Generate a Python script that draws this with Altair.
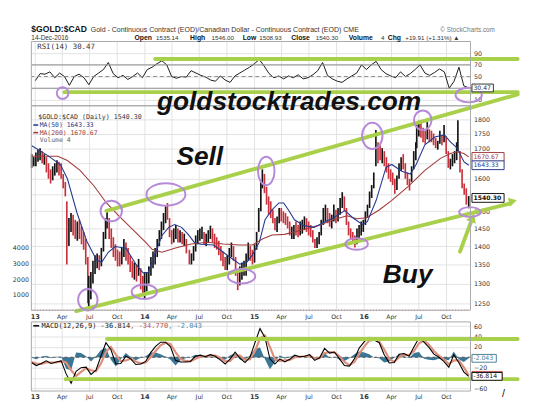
import altair as alt
import pandas as pd

# ------------------------------------------------------------------
# Values
# ------------------------------------------------------------------
# weekly price bars of $GOLD:$CAD (one inner list per month)
BAR_DATES = [
 ["2012-12-20","2012-12-27"],
 ["2013-01-03","2013-01-10","2013-01-17","2013-01-24","2013-01-31"],
 ["2013-02-07","2013-02-14","2013-02-21","2013-02-28"],
 ["2013-03-07","2013-03-14","2013-03-21","2013-03-28"],
 ["2013-04-04","2013-04-11","2013-04-16","2013-04-23","2013-04-30"],
 ["2013-05-07","2013-05-14","2013-05-21","2013-05-28"],
 ["2013-06-04","2013-06-11","2013-06-18","2013-06-25","2013-06-28"],
 ["2013-07-05","2013-07-12","2013-07-19","2013-07-26"],
 ["2013-08-02","2013-08-09","2013-08-16","2013-08-23","2013-08-28"],
 ["2013-09-04","2013-09-11","2013-09-18","2013-09-25"],
 ["2013-10-02","2013-10-09","2013-10-16","2013-10-23","2013-10-30"],
 ["2013-11-06","2013-11-13","2013-11-20","2013-11-27"],
 ["2013-12-04","2013-12-11","2013-12-18","2013-12-25","2013-12-31"],
 ["2014-01-07","2014-01-14","2014-01-21","2014-01-28"],
 ["2014-02-04","2014-02-11","2014-02-18","2014-02-25"],
 ["2014-03-04","2014-03-11","2014-03-17","2014-03-24","2014-03-31"],
 ["2014-04-07","2014-04-14","2014-04-21","2014-04-28"],
 ["2014-05-05","2014-05-12","2014-05-19","2014-05-29"],
 ["2014-06-05","2014-06-12","2014-06-19","2014-06-26"],
 ["2014-07-03","2014-07-10","2014-07-17","2014-07-24","2014-07-31"],
 ["2014-08-07","2014-08-14","2014-08-21","2014-08-28"],
 ["2014-09-04","2014-09-11","2014-09-18","2014-09-25"],
 ["2014-10-02","2014-10-09","2014-10-16","2014-10-23","2014-10-30"],
 ["2014-11-06","2014-11-13","2014-11-20","2014-11-27"],
 ["2014-12-04","2014-12-11","2014-12-18","2014-12-25"],
 ["2015-01-01","2015-01-08","2015-01-15","2015-01-22","2015-01-27"],
 ["2015-02-03","2015-02-10","2015-02-17","2015-02-24"],
 ["2015-03-03","2015-03-10","2015-03-17","2015-03-24","2015-03-31"],
 ["2015-04-07","2015-04-14","2015-04-21","2015-04-28"],
 ["2015-05-05","2015-05-12","2015-05-19","2015-05-26"],
 ["2015-06-02","2015-06-09","2015-06-16","2015-06-23","2015-06-30"],
 ["2015-07-07","2015-07-14","2015-07-21","2015-07-28"],
 ["2015-08-04","2015-08-11","2015-08-18","2015-08-25"],
 ["2015-09-01","2015-09-08","2015-09-15","2015-09-22","2015-09-29"],
 ["2015-10-06","2015-10-13","2015-10-20","2015-10-27"],
 ["2015-11-03","2015-11-10","2015-11-17","2015-11-24"],
 ["2015-12-01","2015-12-08","2015-12-15","2015-12-22","2015-12-29"],
 ["2016-01-05","2016-01-12","2016-01-19","2016-01-26"],
 ["2016-02-02","2016-02-09","2016-02-16","2016-02-23"],
 ["2016-03-01","2016-03-08","2016-03-15","2016-03-22","2016-03-29"],
 ["2016-04-05","2016-04-12","2016-04-19","2016-04-26"],
 ["2016-05-03","2016-05-10","2016-05-17","2016-05-24","2016-05-31"],
 ["2016-06-07","2016-06-14","2016-06-21","2016-06-24"],
 ["2016-07-01","2016-07-08","2016-07-15","2016-07-22","2016-07-29"],
 ["2016-08-05","2016-08-12","2016-08-19","2016-08-26"],
 ["2016-09-02","2016-09-09","2016-09-16","2016-09-23","2016-09-30"],
 ["2016-10-07","2016-10-14","2016-10-21","2016-10-28"],
 ["2016-11-04","2016-11-08","2016-11-15","2016-11-22","2016-11-29"],
 ["2016-12-06","2016-12-14"],
]
BAR_HIGH = [
 [1680,1670],[1685,1695,1700,1690,1680],[1670,1650,1630,1640],[1650,1660,1655,1650],
 [1615,1590,1530,1480,1495],[1490,1475,1470,1475],[1455,1440,1420,1370,1320],[1330,1360,1375,1380],
 [1375,1395,1440,1480,1500],[1480,1450,1425,1405],[1390,1385,1395,1420,1410],[1395,1375,1360,1355],
 [1350,1365,1340,1320,1330],
 [1330,1345,1370,1385],[1395,1420,1445,1470],[1495,1515,1525,1480,1445],[1450,1460,1450,1445],
 [1440,1435,1420,1390],[1380,1400,1430,1445],[1450,1455,1440,1435,1445],[1458,1450,1435,1425],
 [1415,1400,1385,1370],[1375,1395,1410,1400,1370],[1330,1345,1355,1360],[1380,1410,1400,1390],
 [1405,1440,1510,1590,1630],[1615,1575,1545,1530],[1505,1480,1485,1510,1510],[1500,1495,1485,1470],
 [1455,1460,1470,1460],[1470,1475,1485,1480,1470],[1460,1445,1420,1425],[1440,1475,1510,1520],
 [1510,1495,1490,1520,1505],[1510,1540,1558,1545],[1510,1470,1450,1440],[1430,1450,1460,1470,1475],
 [1500,1520,1560,1580],[1620,1762,1720,1710],[1700,1690,1670,1650,1630],[1620,1600,1610,1650],
 [1670,1680,1650,1620,1600],[1640,1690,1720,1790],[1795,1797,1770,1760,1790],[1765,1760,1750,1735],
 [1725,1760,1745,1780,1740],[1690,1665,1680,1690],[1720,1797,1690,1630,1585],[1570,1546],
]
BAR_LOW = [
 [1635,1640],[1640,1655,1660,1650,1645],[1620,1600,1585,1595],[1610,1620,1610,1600],
 [1570,1545,1350,1400,1440],[1430,1420,1415,1420],[1405,1390,1350,1250,1240],[1260,1300,1325,1340],
 [1335,1345,1385,1420,1450],[1420,1395,1370,1360],[1345,1345,1350,1370,1360],[1350,1330,1315,1310],
 [1305,1320,1285,1275,1260],
 [1280,1300,1320,1340],[1350,1370,1400,1420],[1445,1465,1475,1425,1405],[1410,1420,1410,1410],
 [1405,1400,1380,1350],[1350,1360,1385,1405],[1415,1420,1405,1400,1410],[1420,1410,1395,1390],
 [1375,1360,1345,1335],[1335,1350,1370,1360,1320],[1283,1295,1310,1320],[1320,1360,1360,1350],
 [1355,1390,1440,1500,1570],[1555,1520,1490,1480],[1465,1445,1440,1465,1470],[1465,1460,1450,1430],
 [1420,1420,1430,1425],[1430,1435,1445,1440,1430],[1425,1410,1395,1395],[1405,1430,1460,1470],
 [1465,1455,1450,1470,1465],[1470,1490,1510,1500],[1460,1430,1420,1410],[1396,1405,1420,1430,1440],
 [1460,1480,1510,1540],[1570,1640,1650,1660],[1650,1640,1620,1600,1590],[1580,1553,1565,1600],
 [1625,1630,1600,1580,1563],[1590,1630,1660,1700],[1740,1735,1720,1715,1730],[1720,1720,1710,1700],
 [1695,1715,1710,1720,1680],[1635,1630,1640,1650],[1660,1690,1620,1570,1550],[1520,1509],
]
BAR_CLOSE = [
 [1650,1660],[1670,1680,1690,1665,1670],[1640,1615,1600,1625],[1630,1645,1640,1620],
 [1585,1560,1400,1460,1470],[1455,1440,1450,1440],[1430,1410,1370,1280,1290],[1300,1345,1355,1360],
 [1350,1385,1430,1465,1480],[1440,1410,1400,1380],[1365,1360,1380,1400,1375],[1370,1350,1330,1330],
 [1320,1345,1300,1290,1300],
 [1310,1335,1360,1370],[1385,1410,1430,1460],[1480,1500,1490,1440,1420],[1435,1440,1425,1430],
 [1420,1420,1395,1360],[1370,1390,1420,1430],[1435,1440,1420,1425,1430],[1445,1430,1410,1405],
 [1390,1375,1360,1350],[1360,1385,1395,1375,1330],[1310,1330,1340,1345],[1370,1395,1380,1375],
 [1395,1430,1500,1570,1610],[1575,1540,1510,1505],[1480,1460,1470,1495,1490],[1485,1475,1460,1440],
 [1440,1450,1445,1440],[1455,1460,1470,1455,1450],[1440,1420,1405,1415],[1430,1465,1495,1500],
 [1485,1470,1475,1505,1490],[1500,1530,1540,1515],[1475,1445,1430,1425],[1410,1440,1445,1460,1465],
 [1490,1505,1550,1570],[1610,1720,1690,1680],[1690,1660,1640,1615,1600],[1595,1570,1600,1640],
 [1660,1645,1615,1590,1580],[1630,1670,1690,1760],[1770,1765,1740,1735,1760],[1740,1735,1725,1715],
 [1720,1740,1725,1745,1700],[1650,1650,1665,1680],[1700,1720,1640,1590,1565],[1530,1540.30],
]

MA50_DATES = ["2012-12-19","2013-02-12","2013-03-26","2013-04-18","2013-05-20","2013-06-22",
 "2013-07-24","2013-08-10","2013-09-01","2013-09-24","2013-10-30","2013-12-04","2013-12-27",
 "2014-01-12","2014-02-04","2014-02-27","2014-03-21","2014-04-10","2014-05-03","2014-05-25",
 "2014-06-14","2014-07-06","2014-08-18","2014-09-19","2014-10-21","2014-11-13","2014-12-06",
 "2014-12-25","2015-01-17","2015-02-05","2015-02-28","2015-03-23","2015-04-08","2015-04-24",
 "2015-05-14","2015-06-15","2015-07-18","2015-08-19","2015-09-21","2015-10-29","2015-11-24",
 "2015-12-27","2016-01-12","2016-02-10","2016-03-14","2016-04-02","2016-05-05","2016-06-03",
 "2016-06-22","2016-07-21","2016-08-23","2016-09-24","2016-10-14","2016-11-05","2016-11-28",
 "2016-12-14"]
MA50_VALUES = [1709,1675,1645,1600,1495,1413,1362,1356,1383,1399,1394,1348,1327,1329,1378,1430,
 1453,1461,1453,1433,1411,1405,1403,1383,1364,1351,1356,1376,1411,1475,1504,1525,1525,1504,1475,
 1458,1453,1467,1481,1502,1481,1461,1470,1533,1637,1646,1624,1615,1646,1711,1738,1745,1721,1701,
 1655,1643.33]

MA200_DATES = ["2012-12-19","2013-03-17","2013-04-18","2013-05-30","2013-07-15","2013-08-26",
 "2013-10-07","2013-11-21","2014-01-03","2014-01-25","2014-02-27","2014-04-10","2014-06-04",
 "2014-07-29","2014-09-19","2014-11-13","2014-12-25","2015-01-27","2015-02-28","2015-04-11",
 "2015-06-05","2015-07-31","2015-09-21","2015-11-05","2015-12-07","2016-01-09","2016-02-20",
 "2016-04-02","2016-05-27","2016-07-21","2016-09-11","2016-10-14","2016-11-05","2016-11-28",
 "2016-12-14"]
MA200_VALUES = [1673,1673,1659,1627,1578,1525,1486,1447,1411,1391,1383,1394,1406,1411,1406,1403,
 1403,1420,1431,1433,1445,1458,1475,1487,1478,1481,1504,1533,1576,1627,1666,1682,1688,1682,1670.67]

# RSI(14), read every ~16 days from 2013-01-01 to 2016-12-14
RSI_START, RSI_END = "2013-01-01", "2016-12-14"
RSI_VALUES = [43,55,54,58,48,56,50,35,50,54, 48,36,50,56,62,74,55,48,52,45,
 50,56,48,62,66,72,77,70,50,47, 50,49,60,56,52,49,44,42,51,44,
 40,51,56,61,66,72,79,68,55,48, 51,46,51,48,53,46,48,53,60,74,
 52,46,42,40,46,51,56,70,62, 70,76,62,55,51,48,58,50,55,62,70,56,52,57,63,58,30,42,66,34,30.47]

# MACD(12,26,9), read every ~16 days from 2012-12-19 to 2016-12-14
MACD_START, MACD_END = "2012-12-19", "2016-12-14"
MACD_VALUES = [-10,-16,-12,-7,-12,-9,-7,-32,-50,-27, -20,-19,-33,-25,2,28,15,-13,-12,2,
 -3,-14,-13,-8,9,21,29,29,20,-6, -9,-9,-8,2,4,1,5,2,-5,-13, -3,10,-2,-10,0,28,55,38,-3,-13,
 -3,-9,-4,4,1,2,5,-6,-1,17, 8,10,-3,-16,-17,-3,18,30,38,33, 28,5,-11,-10,6,7,2,20,37,29,
 19,6,0,-8,-19,5,-10,-28,-36.814]
SIGNAL_VALUES = [-9,-12,-13,-10,-10,-10,-8,-10,-25,-36, -28,-21,-25,-27,-12,10,20,5,-8,-6,
 -3,-8,-12,-10,0,12,23,28,25,10, -3,-7,-8,-3,1,2,3,3,-1,-8, -7,3,3,-5,-4,12,36,42,20,-4,
 -7,-6,-5,0,1,2,3,-2,-2,8, 10,9,2,-9,-15,-9,7,21,32,34, 30,15,-3,-9,0,5,4,12,27,32,
 24,12,3,-4,-13,-6,-6,-19,-34.770]

VOLUME_DATES = ["2012-12-19", "2016-12-14"]
VOLUME_VALUES = [4, 4]

# axis ticks and labels
PRICE_TICKS = [1250,1300,1350,1400,1450,1500,1550,1600,1650,1700,1750,1800]
VOLUME_TICKS = [1000,2000,3000,4000]
RSI_TICKS = [10,30,50,70,90]
RSI_LEVELS = [70,30]
MACD_TICKS = [-60,-40,-20,0,20,40,60]
TICK_DATES = ["2013-01-01","2013-04-01","2013-07-01","2013-10-01","2014-01-01","2014-04-01",
 "2014-07-01","2014-10-01","2015-01-01","2015-04-01","2015-07-01","2015-10-01","2016-01-01",
 "2016-04-01","2016-07-01","2016-10-01"]
TICK_LABELS = ["13","Apr","Jul","Oct","14","Apr","Jul","Oct","15","Apr","Jul","Oct","16","Apr","Jul","Oct"]

# last values shown in the boxes at the right edge
TAG_CLOSE, TAG_MA50, TAG_MA200 = 1540.30, 1643.33, 1670.67
TAG_RSI = 30.47
TAG_HIST, TAG_SIGNAL, TAG_MACD = -2.043, -34.770, -36.814

# hand-drawn annotations (channel lines, ellipses)
GREEN_PRICE_DATES = [["2013-08-26","2017-05-26"],["2013-05-17","2017-04-30"],["2016-11-15","2016-12-21"]]
GREEN_PRICE_VALUES = [[1501,1891],[1231,1523],[1385,1467]]
GREEN_RSI_DATES = [["2014-02-04","2017-05-26"],["2013-04-08","2017-05-26"]]
GREEN_RSI_VALUES = [[80,80],[23.3,23.3]]
GREEN_MACD_DATES = [["2013-08-28","2017-05-26"],["2013-04-12","2017-05-26"]]
GREEN_MACD_VALUES = [[35,35],[-42,-42]]
ELLIPSE_DATES = ["2013-06-25","2013-12-30","2013-09-11","2014-03-12","2014-11-19","2015-02-09",
 "2016-01-28","2015-12-07","2016-07-14","2016-12-18"]
ELLIPSE_PRICES = [1259,1279,1501,1551,1319,1625,1742,1406,1797,1498]
RSI_ELLIPSE_DATES = ["2013-04-02","2016-12-14"]
RSI_ELLIPSE_VALUES = [21.7,18.3]

# ------------------------------------------------------------------
# layout / style
# ------------------------------------------------------------------
W, H = 451, 359
R0, R1 = 0, 66
P0, P1 = 66, 276
M0, M1 = 288, 359
ELLIPSE_SIZES = [(20,22),(26,15),(22,21),(40,23),(28,15),(17,29),(21,27),(23,12),(18,20),(22,10)]
RSI_ELLIPSE_SIZES = [(12,12),(27,15)]

GREEN = "#a9d04a"
PURPLE = "#b68ad8"
GRID = "#e2e2e2"
FRAME = "#a8a8a8"
BLUE = "#253a8e"
BROWN = "#a23b3b"
TEAL = "#2f6f8f"
SALMON = "#de8f7c"
MONO = "DejaVu Sans Mono"
SANS = "Liberation Sans"
AXF = "DejaVu Sans"

for name, rows in (("high", BAR_HIGH), ("low", BAR_LOW), ("close", BAR_CLOSE)):
    assert len(rows) == len(BAR_DATES), name
    for i, (a, b) in enumerate(zip(BAR_DATES, rows)):
        assert len(a) == len(b), (name, i, a)

flat = lambda rows: [v for r in rows for v in r]
price_df = pd.DataFrame({"date": pd.to_datetime(flat(BAR_DATES)), "high": flat(BAR_HIGH),
                         "low": flat(BAR_LOW), "close": flat(BAR_CLOSE)})
prev = price_df["close"].shift(1).fillna(price_df["close"].iloc[0])
price_df["dir"] = ["up" if c >= p else "down" for c, p in zip(price_df["close"], prev)]

ma50_df = pd.DataFrame({"date": pd.to_datetime(MA50_DATES), "v": MA50_VALUES})
ma200_df = pd.DataFrame({"date": pd.to_datetime(MA200_DATES), "v": MA200_VALUES})
rsi_df = pd.DataFrame({"date": pd.date_range(RSI_START, RSI_END, periods=len(RSI_VALUES)), "v": RSI_VALUES})
macd_df = pd.DataFrame({"date": pd.date_range(MACD_START, MACD_END, periods=len(MACD_VALUES)),
                        "macd": MACD_VALUES, "signal": SIGNAL_VALUES})
macd_df["hist"] = macd_df["macd"] - macd_df["signal"]
vol_df = pd.DataFrame({"date": pd.to_datetime(VOLUME_DATES), "v": VOLUME_VALUES})
ticks_df = pd.DataFrame({"date": pd.to_datetime(TICK_DATES), "label": TICK_LABELS})
ticks_df["year"] = ticks_df["label"].str.len() == 2


def seg_df(dates, values):
    rows = []
    for g, (ds, vs) in enumerate(zip(dates, values)):
        for d, v in zip(ds, vs):
            rows.append({"date": pd.Timestamp(d), "v": v, "g": g})
    return pd.DataFrame(rows)


XS = alt.Scale(domain=[alt.DateTime(year=2012, month=12, date=19),
                       alt.DateTime(year=2016, month=12, date=20)])
X = alt.X("date:T", scale=XS, axis=None)
PS = alt.Scale(type="log", domain=[1233, 1849], range=[P1, P0], nice=False, zero=False)
VS = alt.Scale(domain=[0, 13125], range=[P1, P0], nice=False, zero=False)
RS = alt.Scale(domain=[0, 110], range=[R1, R0], nice=False, zero=False)
MS = alt.Scale(domain=[-65, 68], range=[M1, M0], nice=False, zero=False)


def yaxis(values, orient="right", hide=None, fmt="d"):
    expr = "datum.label"
    if hide:
        expr = " || ".join(f"datum.value == {h}" for h in hide) + " ? '' : datum.label"
    return alt.Axis(orient=orient, values=values, title=None, grid=(orient == "right"), gridColor=GRID,
                    gridWidth=1, ticks=False, tickSize=0, domain=False, labelPadding=3,
                    labelOverlap=False, labelExpr=expr, labelFont=AXF, labelFontSize=6.5,
                    labelColor="#333", format=fmt)


def Y(field, scale):
    # secondary layers: no axis argument so they merge with the panel's main axis
    return alt.Y(f"{field}:Q", scale=scale)


def ellipse_path(w, h):
    r = h / w
    k = 0.5523
    a = k * r
    return (f"M-1,0C-1,{-a:.4f},{-k:.4f},{-r:.4f},0,{-r:.4f}"
            f"C{k:.4f},{-r:.4f},1,{-a:.4f},1,0"
            f"C1,{a:.4f},{k:.4f},{r:.4f},0,{r:.4f}"
            f"C{-k:.4f},{r:.4f},-1,{a:.4f},-1,0Z")


def rect_path(w, h):
    r = h / w
    return f"M-1,{-r:.4f}L1,{-r:.4f}L1,{r:.4f}L-1,{r:.4f}Z"


def ellipses(dates, values, sizes, scale):
    out = []
    for d, v, (w, h) in zip(dates, values, sizes):
        df = pd.DataFrame({"date": [pd.Timestamp(d)], "v": [v]})
        out.append(alt.Chart(df).mark_point(shape=ellipse_path(w, h), size=w * w, filled=False,
                                            color=PURPLE, strokeWidth=2, opacity=1).encode(
            x=X, y=Y("v", scale)))
    return out


def tag(scale, value, txt, color, w, h=9, bold=False, tcolor=None, fs=6.3):
    df = pd.DataFrame({"v": [value]})
    box = alt.Chart(df).mark_point(shape=rect_path(w, h), size=w * w, filled=True, fill="white",
                                   stroke=color, strokeWidth=1, opacity=1).encode(
        x=alt.value(W + 1.5 + w / 2), y=Y("v", scale))
    t = alt.Chart(df).mark_text(text=txt, align="left", baseline="middle", font=AXF, fontSize=fs,
                                fontWeight="bold" if bold else "normal", color=tcolor or color).encode(
        x=alt.value(W + 3), y=Y("v", scale))
    return [box, t]


def green(dates, values, scale):
    return alt.Chart(seg_df(dates, values)).mark_line(color=GREEN, strokeWidth=4, strokeCap="round",
                                                      clip=False).encode(
        x=X, y=Y("v", scale), detail="g:N")


ONE = pd.DataFrame({"k": [0]})


def label(txt, px, py, size=7, weight="normal", color="#222", font=SANS, align="left",
          baseline="alphabetic", style="normal"):
    return alt.Chart(ONE).mark_text(text=txt, fontSize=size, fontWeight=weight, color=color, font=font,
                                    align=align, baseline=baseline, fontStyle=style).encode(
        x=alt.value(px), y=alt.value(py))


def hline(x1, x2, y, color):
    return alt.Chart(ONE).mark_rule(color=color, strokeWidth=1.6).encode(
        x=alt.value(x1), x2=alt.value(x2), y=alt.value(y))


# ---------------- RSI panel ----------------
rsi_group = alt.layer(
    alt.Chart(rsi_df).mark_line(color="black", strokeWidth=0.9).encode(
        x=X, y=alt.Y("v:Q", scale=RS, axis=yaxis(RSI_TICKS, hide=[30]))),
    alt.Chart(pd.DataFrame({"v": RSI_LEVELS})).mark_rule(color="#8c8c8c", strokeWidth=1).encode(
        y=Y("v", RS)),
    alt.Chart(pd.DataFrame({"v": [50]})).mark_rule(color="#8c8c8c", strokeWidth=1, strokeDash=[4, 3]).encode(
        y=Y("v", RS)),
    green(GREEN_RSI_DATES, GREEN_RSI_VALUES, RS),
    *ellipses(RSI_ELLIPSE_DATES, RSI_ELLIPSE_VALUES, RSI_ELLIPSE_SIZES, RS),
    *tag(RS, TAG_RSI, f"{TAG_RSI:.2f}", "#333", 22, 8),
)

# ---------------- volume (left axis of the price panel) ----------------
vol_group = alt.layer(
    alt.Chart(vol_df).mark_line(color="#c98080", strokeWidth=1.2, strokeDash=[1, 2]).encode(
        x=X, y=alt.Y("v:Q", scale=VS, axis=yaxis(VOLUME_TICKS, orient="left"))),
)

# ---------------- price panel ----------------
arrow_df = pd.DataFrame({"date": pd.to_datetime(["2017-05-10"]), "v": [1530]})
arrow2_df = pd.DataFrame({"date": pd.to_datetime(["2016-12-27"]), "v": [1481]})
price_group = alt.layer(
    alt.Chart(price_df).mark_rule(strokeWidth=1.7).encode(
        x=X, y=alt.Y("low:Q", scale=PS, axis=yaxis(PRICE_TICKS, hide=[1650, 1550])), y2="high:Q",
        color=alt.Color("dir:N", scale=alt.Scale(domain=["up", "down"], range=["#141414", "#c9323c"]),
                        legend=None)),
    alt.Chart(ma200_df).mark_line(color=BROWN, strokeWidth=1.1).encode(x=X, y=Y("v", PS)),
    alt.Chart(ma50_df).mark_line(color=BLUE, strokeWidth=1.1).encode(x=X, y=Y("v", PS)),
    green(GREEN_PRICE_DATES, GREEN_PRICE_VALUES, PS),
    alt.Chart(arrow_df).mark_point(shape="triangle-right", filled=True, color=GREEN, size=90, angle=346,
                                   opacity=1).encode(x=X, y=Y("v", PS)),
    alt.Chart(arrow2_df).mark_point(shape="triangle-up", filled=True, color=GREEN, size=110, angle=21,
                                    opacity=1).encode(x=X, y=Y("v", PS)),
    *ellipses(ELLIPSE_DATES, ELLIPSE_PRICES, ELLIPSE_SIZES, PS),
    *tag(PS, TAG_MA200, f"{TAG_MA200:.2f}", BROWN, 33),
    *tag(PS, TAG_MA50, f"{TAG_MA50:.2f}", BLUE, 33),
    *tag(PS, TAG_CLOSE, f"{TAG_CLOSE:.2f}", "#111", 33, bold=True),
)

# ---------------- MACD panel ----------------
macd_group = alt.layer(
    alt.Chart(macd_df).mark_area(color=TEAL, opacity=0.95).encode(
        x=X, y=alt.Y("hist:Q", scale=MS, axis=yaxis(MACD_TICKS, hide=[0, -40])), y2=alt.datum(0)),
    alt.Chart(pd.DataFrame({"v": [0]})).mark_rule(color="#555", strokeWidth=1, strokeDash=[3, 3]).encode(
        y=Y("v", MS)),
    alt.Chart(macd_df).mark_line(color=SALMON, strokeWidth=2.2).encode(x=X, y=Y("signal", MS)),
    alt.Chart(macd_df).mark_line(color="black", strokeWidth=1.1).encode(x=X, y=Y("macd", MS)),
    green(GREEN_MACD_DATES, GREEN_MACD_VALUES, MS),
    *tag(MS, TAG_HIST, f"{TAG_HIST:.3f}", "#4b7f99", 25, 8),
    *tag(MS, TAG_SIGNAL, "", "#c0504d", 31, 8),
    *tag(MS, TAG_MACD, f"{TAG_MACD:.3f}", "#111", 31, 8),
)

# ---------------- grid, frames, tick labels ----------------
vgrid = [alt.Chart(ticks_df).mark_rule(color=GRID, strokeWidth=1).encode(
    x=X, y=alt.value(a), y2=alt.value(b)) for a, b in ((R0, R1), (P0, P1), (M0, M1))]
frames = [alt.Chart(ONE).mark_rect(fillOpacity=0, stroke=FRAME, strokeWidth=1).encode(
    x=alt.value(0), x2=alt.value(W), y=alt.value(a), y2=alt.value(b)) for a, b in ((R0, R1), (P0, P1), (M0, M1))]
xlabels = []
for ypos in (P1 + 7, M1 + 6.5):
    for is_year in (True, False):
        xlabels.append(alt.Chart(ticks_df[ticks_df["year"] == is_year]).mark_text(
            font=AXF, fontSize=6.8 if is_year else 6.3, fontWeight="bold" if is_year else "normal",
            color="#333", baseline="middle", align="center").encode(
            x=X, y=alt.value(ypos), text="label:N"))

# ---------------- texts ----------------
header2 = [("Open", 106, True), ("1535.14", 128, False), ("High", 163, True), ("1546.00", 185, False),
           ("Low", 217, True), ("1508.93", 234, False), ("Close", 267, True), ("1540.30", 292, False),
           ("Volume", 326, True), ("4", 359, False), ("Chg", 366, True), ("+19.91 (+1.31%) ▲", 384, False)]
texts = [
    label("$GOLD:$CAD", 0, -10, size=8.8, weight="bold", color="#111"),
    label("Gold - Continuous Contract (EOD)/Canadian Dollar - Continuous Contract (EOD) CME", 61, -10,
          size=7.2, color="#333"),
    label("© StockCharts.com", 476, -10, size=6.5, color="#777", align="right"),
    label("14-Dec-2016", 0, -2, size=6.6, color="#333"),
]
for txt, px, bold in header2:
    texts.append(label(txt, px, -2, size=7 if bold else 6.4, weight="bold" if bold else "normal",
                       color="#111" if bold else "#333"))
texts += [
    label("RSI(14) 30.47", 6, 5.5, size=7.6, font=MONO, color="#333", baseline="middle"),
    label("$GOLD:$CAD (Daily) 1540.30", 7, 77.7, size=6.8, font=MONO, color="#333", baseline="middle"),
    hline(2, 7, 85.8, BLUE),
    label("MA(50) 1643.33", 8.5, 85.8, size=6.6, font=MONO, color=BLUE, baseline="middle"),
    hline(2, 7, 93.6, BROWN),
    label("MA(200) 1670.67", 8.5, 93.6, size=6.6, font=MONO, color=BROWN, baseline="middle"),
    label("Volume 4", 8.5, 101.2, size=6.6, font=MONO, color="#666", baseline="middle"),
    hline(2, 8, 292, "#111"),
    label("MACD(12,26,9) -36.814", 10.5, 292, size=7.2, font=MONO, color="#222", baseline="middle"),
    label(", -34.770", 101.5, 292, size=7.2, font=MONO, color="#c0504d", baseline="middle"),
    label(", -2.043", 140.5, 292, size=7.2, font=MONO, color="#4b8fb0", baseline="middle"),
    label("goldstocktrades.com", 129, 70.5, size=27, weight="bold", style="italic", color="#111"),
    label("Sell", 149, 127, size=27, weight="bold", style="italic", color="#111"),
    label("Buy", 361, 248, size=27, weight="bold", style="italic", color="#111"),
    label("/", 485, 362, size=11, color="#111", baseline="middle", align="center"),
]

chart = alt.layer(
    *vgrid, rsi_group, vol_group, price_group, macd_group, *frames, *xlabels, *texts
).resolve_scale(y="independent").properties(
    width=W, height=H, padding={"left": 4, "top": 12, "right": 0, "bottom": 0}
).configure_view(strokeWidth=0)

chart.save("out.html", embed_options={"renderer": "svg", "actions": False})
